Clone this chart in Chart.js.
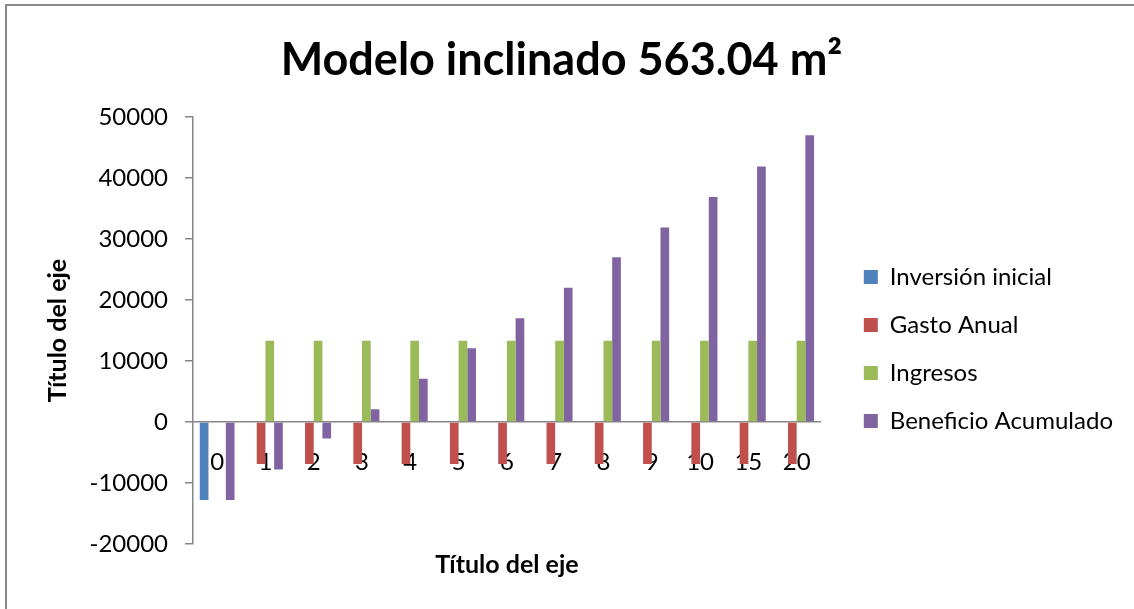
<!DOCTYPE html>
<html>
<head>
<meta charset="utf-8">
<script src="https://cdn.jsdelivr.net/npm/chart.js@4/dist/chart.umd.min.js"></script>
<style>
    html, body { margin: 0; padding: 0; background: #fff; overflow: hidden; }
    #frame {
        position: absolute; left: 5px; top: 4px; width: 1140px; height: 620px;
        border-top: 2px solid #888; border-left: 2px solid #888;
    }
    #chart { position: absolute; left: 0; top: 0; }
</style>
</head>
<body>
<div id="frame"></div>
<canvas id="chart" width="1134" height="609"></canvas>
<script>
// categories (years) and series
const categories = ['0', '1', '2', '3', '4', '5', '6', '7', '8', '9', '10', '15', '20'];
const inversionInicial = [-12800, null, null, null, null, null, null, null, null, null, null, null, null];
const gastoAnual = [null, -6900, -6900, -6900, -6900, -6900, -6900, -6900, -6900, -6900, -6900, -6900, -6900];
const ingresos = [null, 13300, 13300, 13300, 13300, 13300, 13300, 13300, 13300, 13300, 13300, 13300, 13300];
const beneficioAcumulado = [-12800, -7800, -2700, 2100, 7100, 12100, 17000, 22000, 27000, 31900, 36900, 41900, 47000];

const yMin = -20000;
const yMax = 50000;
const yStep = 10000;

const axisGray = '#868686';
const fontFamily = 'Lato, "Open Sans", sans-serif';

const ctx = document.getElementById('chart').getContext('2d');
const chart = new Chart(ctx, {
    type: 'bar',
    data: {
        labels: categories,
        datasets: [
            { label: 'Inversión inicial', data: inversionInicial, backgroundColor: '#4F81BD' },
            { label: 'Gasto Anual', data: gastoAnual, backgroundColor: '#C0504D' },
            { label: 'Ingresos', data: ingresos, backgroundColor: '#9BBB59' },
            { label: 'Beneficio Acumulado', data: beneficioAcumulado, backgroundColor: '#8064A2' }
        ]
    },
    options: {
        responsive: false,
        animation: false,
        categoryPercentage: 0.72,
        barPercentage: 1.0,
        layout: { padding: { left: 0, right: 11, top: 0, bottom: 0 } },
        plugins: {
            title: {
                display: true,
                text: 'Modelo inclinado 563.04 m²',
                color: '#000',
                font: { family: fontFamily, size: 45, weight: 'bold' },
                padding: { top: 33, bottom: 30 }
            },
            subtitle: {
                display: true,
                position: 'bottom',
                fullSize: false,
                text: 'Título del eje',
                color: '#000',
                font: { family: fontFamily, size: 25, weight: 'bold' },
                padding: { top: 6, bottom: 29 }
            },
            legend: {
                position: 'right',
                align: 'start',
                maxWidth: 400,
                // empty title only pushes the entries down
                title: { display: true, text: ' ', font: { size: 10 }, padding: { top: 0, bottom: 229 } },
                labels: {
                    color: '#000',
                    boxWidth: 14,
                    boxHeight: 14,
                    padding: 24,
                    font: { family: fontFamily, size: 24 }
                }
            },
            tooltip: { enabled: false }
        },
        scales: {
            x: {
                position: { y: 0 },
                grid: { display: true, drawOnChartArea: false, drawTicks: false },
                border: { display: true, color: axisGray, width: 1.5 },
                ticks: {
                    color: '#000',
                    padding: 26,
                    font: { family: fontFamily, size: 24 }
                }
            },
            y: {
                position: 'left',
                min: yMin,
                max: yMax,
                grid: { display: true, drawOnChartArea: false, drawTicks: true, tickLength: 8, color: axisGray, lineWidth: 1.5 },
                border: { display: true, color: axisGray, width: 1.5 },
                ticks: {
                    stepSize: yStep,
                    color: '#000',
                    padding: 17,
                    font: { family: fontFamily, size: 24 },
                    callback: value => String(value)
                },
                title: {
                    display: true,
                    text: 'Título del eje',
                    color: '#000',
                    font: { family: fontFamily, size: 25, weight: 'bold' },
                    padding: { top: 43, bottom: 0 }
                },
                afterFit(scale) { scale.width = 193; }
            },
            gap: {
                position: 'right',
                display: true,
                grid: { display: false },
                border: { display: false },
                ticks: { display: false },
                afterFit(scale) { scale.width = 19; }
            }
        }
    }
});
</script>
</body>
</html>
